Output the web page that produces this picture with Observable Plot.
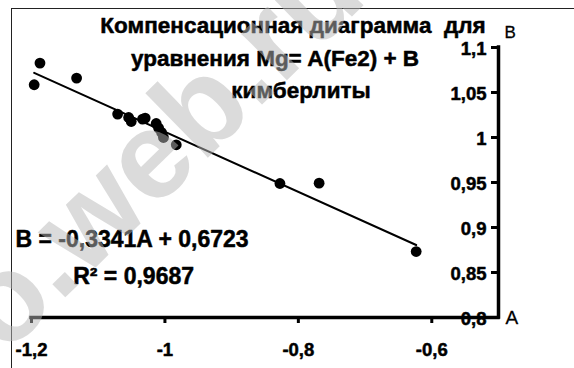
<!DOCTYPE html>
<html>
<head>
<meta charset="utf-8">
<script src="https://cdn.jsdelivr.net/npm/d3@7"></script>
<script src="https://cdn.jsdelivr.net/npm/@observablehq/plot@0.6"></script>
<style>
  html, body { margin: 0; padding: 0; background: #fff; }
  #wrap { position: relative; width: 574px; height: 368px; overflow: hidden; }
  #frame { position: absolute; left: 11px; top: 8px; width: 570px; height: 400px;
           border-left: 1.5px solid #222; border-top: 1.5px solid #222; }
  #chart { position: absolute; left: 0; top: 0; }
</style>
</head>
<body>
<div id="wrap"><div id="frame"></div><div id="chart"></div></div>
<script>
// ---- data ----
const A = [-1.1873, -1.1960, -1.1324, -1.0709, -1.0544, -1.0505, -1.0335, -1.0296,
           -1.0131, -1.0094, -1.0050, -1.0022, -0.9830, -0.8276, -0.7689, -0.6234];
const B = [1.0827, 1.0586, 1.0660, 1.0260, 1.0222, 1.0178, 1.0204, 1.0216,
           1.0156, 1.0104, 1.0056, 1.0000, 0.9919, 0.9489, 0.9493, 0.8733];
const xTicks = [-1.2, -1, -0.8, -0.6];
const yTicks = [0.8, 0.85, 0.9, 0.95, 1, 1.05, 1.1];
const xDomain = [-1.2, -0.5];
const yDomain = [0.8, 1.1];
const slope = -0.3341;
const intercept = 0.6723;
const r2Text = "R² = 0,9687";
const eqText = "B = -0,3341A + 0,6723";
const titleLines = ["Компенсационная диаграмма  для", "уравнения Mg= A(Fe2) + B", "кимберлиты"];
const xName = "A";
const yName = "B";
const watermark = "geo.web.ru";

const points = A.map((a, i) => ({a, b: B[i]}));
const fit = d3.extent(A).map(a => ({a, b: slope * a + intercept}));
const fmt = d => String(d).replace(".", ",");
const font = "'Liberation Sans', Arial, sans-serif";
const heavy = {fontWeight: "bold", fill: "#000", stroke: "#000", strokeWidth: 0.5};

const chart = Plot.plot({
  width: 574, height: 368,
  marginLeft: 31, marginRight: 76, marginTop: 47, marginBottom: 51,
  x: {domain: xDomain, axis: null},
  y: {domain: yDomain, axis: null},
  style: {fontFamily: font, background: "transparent", overflow: "visible", color: "#000"},
  marks: [
    // tick labels
    Plot.text(yTicks, {x: xDomain[1], y: d => d, text: fmt, textAnchor: "end", dx: -12, dy: 1.5,
      fontSize: 18.5, ...heavy}),
    Plot.text(xTicks, {x: d => d, y: yDomain[0], text: fmt, dy: 33, fontSize: 18.5, ...heavy}),
    // ticks
    Plot.ruleX(xTicks, {x: d => d, y1: yDomain[0], y2: yDomain[0], insetBottom: -6, strokeWidth: 3, stroke: "#000"}),
    Plot.ruleY(yTicks, {y: d => d, x1: xDomain[1], x2: xDomain[1], insetLeft: -7, strokeWidth: 3, stroke: "#000"}),
    // axis lines
    Plot.ruleY([yDomain[0]], {x1: xDomain[0], x2: xDomain[1], strokeWidth: 3.5, stroke: "#000", strokeLinecap: "square"}),
    Plot.ruleX([xDomain[1]], {y1: yDomain[0], y2: yDomain[1], strokeWidth: 3.5, stroke: "#000", strokeLinecap: "square"}),
    // axis names
    Plot.text([xName], {x: xDomain[1], y: yDomain[0], dx: 7, textAnchor: "start", fontSize: 19, fill: "#000", stroke: "#000", strokeWidth: 0.3}),
    Plot.text([yName], {x: xDomain[1], y: yDomain[1], dx: 6, dy: -15, textAnchor: "start", fontSize: 17, fill: "#000", stroke: "#000", strokeWidth: 0.3}),
    // trend line and points
    Plot.line(fit, {x: "a", y: "b", stroke: "#000", strokeWidth: 2}),
    Plot.dot(points, {x: "a", y: "b", r: 5.4, fill: "#000", stroke: "none"}),
    // title
    Plot.text([titleLines[0]], {frameAnchor: "top", lineAnchor: "middle", dx: 28, dy: -22, fontSize: 22.5, ...heavy}),
    Plot.text([titleLines[1]], {frameAnchor: "top", lineAnchor: "middle", dx: 10, dy: 11, fontSize: 22.5, ...heavy}),
    Plot.text([titleLines[2]], {frameAnchor: "top", lineAnchor: "middle", dx: 36, dy: 43, fontSize: 22.5, ...heavy}),
    // equation
    Plot.text([eqText], {frameAnchor: "top-left", lineAnchor: "middle", dx: -16, dy: 192, textAnchor: "start", fontSize: 23, ...heavy}),
    Plot.text([r2Text], {frameAnchor: "top-left", lineAnchor: "middle", dx: 41.7, dy: 229, textAnchor: "start", fontSize: 23, ...heavy}),
    // watermark
    Plot.text([watermark], {frameAnchor: "top-left", textAnchor: "middle", lineAnchor: "bottom", dx: 104, dy: 181, rotate: -44.4,
      fontSize: 124, fontWeight: "bold", fill: "#b8b8b8", fillOpacity: 0.5})
  ]
});
document.getElementById("chart").appendChild(chart);
</script>
</body>
</html>
